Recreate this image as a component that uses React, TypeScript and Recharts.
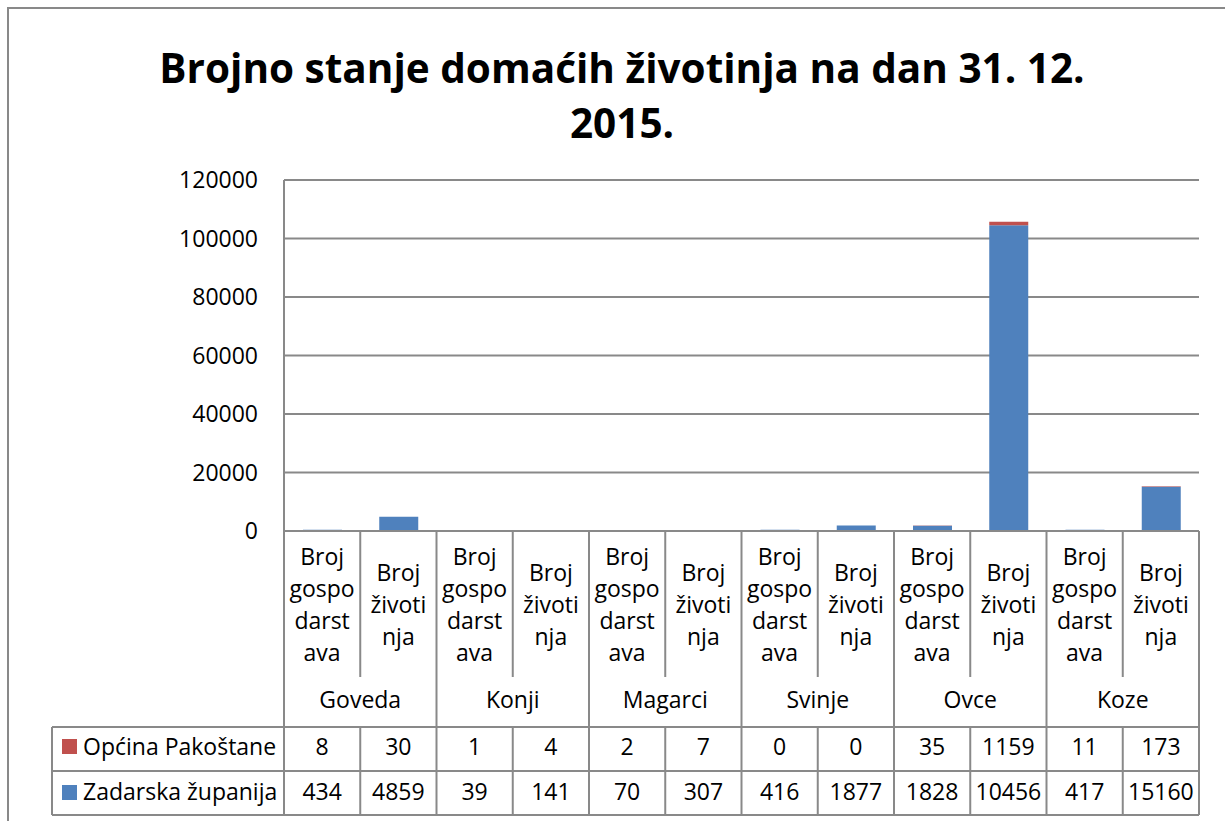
import { BarChart, Bar, XAxis, YAxis, CartesianGrid } from 'recharts';

const groups = ['Goveda', 'Konji', 'Magarci', 'Svinje', 'Ovce', 'Koze'];
const subLabels = [
  ['Broj', 'gospo', 'darst', 'ava'],
  ['Broj', 'životi', 'nja'],
];
const seriesNames = ['Općina Pakoštane', 'Zadarska županija'];
const pakostane = [8, 30, 1, 4, 2, 7, 0, 0, 35, 1159, 11, 173];
const zadarska = [434, 4859, 39, 141, 70, 307, 416, 1877, 1828, 104560, 417, 15160];
const yTicks = [0, 20000, 40000, 60000, 80000, 100000, 120000];

const RED = '#C0504D';
const BLUE = '#4F81BD';
const LINE = '#898989';
const FONT = '"Open Sans", sans-serif';
const FS = 23;

const W = 1225;
const H = 821;
const MARGIN = { top: 180, right: 26, bottom: 10, left: 84 };
const Y_AXIS_W = 200;
const X_AXIS_H = 280;
const PLOT_L = MARGIN.left + Y_AXIS_W;
const PLOT_W = W - PLOT_L - MARGIN.right;

const data = zadarska.map((z, i) => ({
  key: `${groups[Math.floor(i / 2)]}-${i % 2}`,
  zadarska: z,
  pakostane: pakostane[i],
}));

const SLOT = PLOT_W / data.length;

// Excel clips numbers that don't fit in a cell
const fitCell = (v: number) => {
  const s = String(v);
  const max = Math.floor((SLOT - 4) / (0.572 * FS));
  return s.length > max ? s.slice(0, max) : s;
};

const CategoryTick = (props: any) => {
  const { x, y, index } = props;
  const lines = subLabels[index % 2];
  const right = x + SLOT / 2;
  const left = x - SLOT / 2;
  const textProps = { fontFamily: FONT, fontSize: FS, fill: '#000', textAnchor: 'middle' as const };
  return (
    <g>
      {lines.map((l, i) => (
        <text key={i} x={x} y={y + 82 + (i - (lines.length - 1) / 2) * 32.3} {...textProps}>
          {l}
        </text>
      ))}
      {index % 2 === 1 ? (
        <line x1={right} x2={right} y1={y} y2={y + 284} stroke={LINE} strokeWidth={2} />
      ) : (
        <g>
          <line x1={right} x2={right} y1={y} y2={y + 146} stroke={LINE} strokeWidth={2} />
          <line x1={right} x2={right} y1={y + 196} y2={y + 284} stroke={LINE} strokeWidth={2} />
          <text x={right} y={y + 177} {...textProps}>{groups[index / 2]}</text>
        </g>
      )}
      <text x={x} y={y + 224} {...textProps}>{fitCell(pakostane[index])}</text>
      <text x={x} y={y + 269} {...textProps}>{fitCell(zadarska[index])}</text>
      {index === 0 && (
        <g>
          <line x1={left} x2={left} y1={y} y2={y + 284} stroke={LINE} strokeWidth={2} />
          <line x1={left - 232} x2={left - 232} y1={y + 196} y2={y + 284} stroke={LINE} strokeWidth={2} />
          {[196, 240, 284].map((dy) => (
            <line key={dy} x1={left - 232} x2={left + PLOT_W} y1={y + dy} y2={y + dy} stroke={LINE} strokeWidth={2} />
          ))}
          {seriesNames.map((name, i) => (
            <g key={name}>
              <rect x={left - 222} y={y + 208 + i * 46} width={15} height={15} fill={i === 0 ? RED : BLUE} />
              <text x={left - 201} y={y + 224 + i * 45} fontFamily={FONT} fontSize={FS} fill="#000">
                {name}
              </text>
            </g>
          ))}
        </g>
      )}
    </g>
  );
};

export default function App() {
  return (
    <div
      style={{
        position: 'absolute',
        left: 0,
        top: 0,
        width: W,
        height: H,
        background: '#fff',
        overflow: 'hidden',
      }}
    >
      <div
        style={{
          position: 'absolute',
          left: 7,
          top: 7,
          width: 1300,
          height: 900,
          border: `2px solid ${LINE}`,
          boxSizing: 'border-box',
        }}
      />
      <div
        style={{
          position: 'absolute',
          left: 0,
          top: 40,
          width: 1244,
          textAlign: 'center',
          fontFamily: FONT,
          fontWeight: 700,
          fontSize: 40.5,
          lineHeight: '55px',
          color: '#000',
        }}
      >
        Brojno stanje domaćih životinja na dan 31. 12.
        <br />
        2015.
      </div>
      <div style={{ position: 'absolute', left: 0, top: 0 }}>
        <BarChart width={W} height={H} data={data} margin={MARGIN} barSize={39}>
          <CartesianGrid vertical={false} stroke={LINE} strokeWidth={2} />
          <XAxis
            dataKey="key"
            interval={0}
            height={X_AXIS_H}
            tickLine={false}
            tickSize={0}
            tickMargin={0}
            axisLine={{ stroke: LINE, strokeWidth: 2 }}
            tick={(p: any) => <CategoryTick {...p} />}
          />
          <YAxis
            width={Y_AXIS_W}
            domain={[0, 120000]}
            ticks={yTicks}
            interval={0}
            tickLine={false}
            tickSize={0}
            tickMargin={26}
            axisLine={{ stroke: LINE, strokeWidth: 2 }}
            tick={{ fontFamily: FONT, fontSize: FS, fill: '#000' }}
          />
          <Bar dataKey="zadarska" name={seriesNames[1]} stackId="a" fill={BLUE} isAnimationActive={false} />
          <Bar dataKey="pakostane" name={seriesNames[0]} stackId="a" fill={RED} isAnimationActive={false} />
        </BarChart>
      </div>
    </div>
  );
}
